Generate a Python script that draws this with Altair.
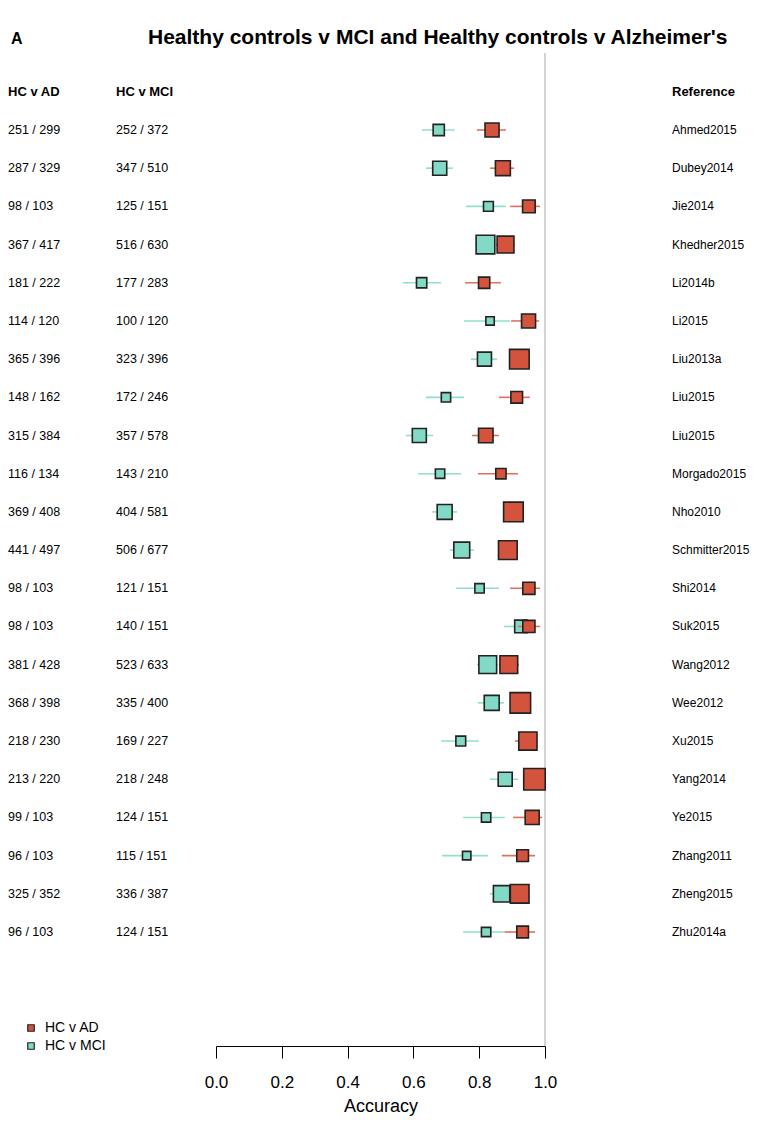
import altair as alt
import pandas as pd

# ---------------- data ----------------
references = ["Ahmed2015", "Dubey2014", "Jie2014", "Khedher2015", "Li2014b", "Li2015",
              "Liu2013a", "Liu2015", "Liu2015", "Morgado2015", "Nho2010", "Schmitter2015",
              "Shi2014", "Suk2015", "Wang2012", "Wee2012", "Xu2015", "Yang2014", "Ye2015",
              "Zhang2011", "Zheng2015", "Zhu2014a"]

ad_correct = [251, 287, 98, 367, 181, 114, 365, 148, 315, 116, 369, 441, 98, 98, 381, 368, 218, 213, 99, 96, 325, 96]
ad_total = [299, 329, 103, 417, 222, 120, 396, 162, 384, 134, 408, 497, 103, 103, 428, 398, 230, 220, 103, 103, 352, 103]
mci_correct = [252, 347, 125, 516, 177, 100, 323, 172, 357, 143, 404, 506, 121, 140, 523, 335, 169, 218, 124, 115, 336, 124]
mci_total = [372, 510, 151, 630, 283, 120, 396, 246, 578, 210, 581, 677, 151, 151, 633, 400, 227, 248, 151, 151, 387, 151]

ad_acc = [0.839, 0.872, 0.951, 0.880, 0.815, 0.950, 0.922, 0.914, 0.820, 0.866, 0.904,
          0.887, 0.951, 0.951, 0.890, 0.925, 0.948, 0.968, 0.961, 0.932, 0.923, 0.932]
ad_lo = [0.793, 0.833, 0.894, 0.851, 0.757, 0.897, 0.896, 0.860, 0.778, 0.796, 0.872,
         0.857, 0.894, 0.917, 0.860, 0.899, 0.909, 0.933, 0.903, 0.869, 0.895, 0.878]
ad_hi = [0.881, 0.906, 0.985, 0.909, 0.866, 0.982, 0.948, 0.954, 0.860, 0.918, 0.934,
         0.915, 0.985, 0.985, 0.921, 0.951, 0.978, 0.995, 0.991, 0.970, 0.951, 0.970]
ad_weight = [15, 16, 13.5, 18, 12, 15, 21, 12.5, 15.5, 11, 21, 20, 13, 13, 19, 22, 19.5, 23, 15, 12.5, 20, 12.5]

mci_acc = [0.677, 0.680, 0.828, 0.819, 0.625, 0.833, 0.816, 0.699, 0.618, 0.681, 0.695,
           0.747, 0.801, 0.927, 0.826, 0.838, 0.744, 0.879, 0.821, 0.762, 0.868, 0.821]
mci_lo = [0.626, 0.638, 0.760, 0.787, 0.568, 0.754, 0.775, 0.638, 0.578, 0.614, 0.657,
          0.711, 0.729, 0.875, 0.793, 0.796, 0.684, 0.833, 0.751, 0.687, 0.833, 0.751]
mci_hi = [0.726, 0.720, 0.881, 0.849, 0.684, 0.894, 0.854, 0.754, 0.660, 0.745, 0.733,
          0.784, 0.860, 0.964, 0.857, 0.875, 0.799, 0.918, 0.878, 0.827, 0.903, 0.878]
mci_weight = [12, 15, 10.5, 20, 11, 9, 15, 10, 15, 10, 16, 17, 10, 13.5, 19, 16, 10.5, 15, 10, 9, 17.5, 10]

groups = ["HC v AD", "HC v MCI"]
fill_colors = ["#d4533d", "#82d9c5"]
line_colors = {"HC v AD": "#e0705e", "HC v MCI": "#8fe0cd"}

# ---------------- tables ----------------
n = len(references)
rows = pd.DataFrame({
    "row": list(range(n)),
    "ref": references,
    "ad_lab": [f"{c} / {t}" for c, t in zip(ad_correct, ad_total)],
    "mci_lab": [f"{c} / {t}" for c, t in zip(mci_correct, mci_total)],
})
est = pd.concat([
    pd.DataFrame({"row": list(range(n)), "group": "HC v MCI", "acc": mci_acc,
                  "lo": mci_lo, "hi": mci_hi, "w": mci_weight}),
    pd.DataFrame({"row": list(range(n)), "group": "HC v AD", "acc": ad_acc,
                  "lo": ad_lo, "hi": ad_hi, "w": ad_weight}),
], ignore_index=True)

W, H = 329, 993
FONT = "Liberation Sans, Arial, sans-serif"

xscale = alt.Scale(domain=[0, 1], nice=False, zero=False)
yscale = alt.Scale(domain=[0, n - 1], range=[77, 879])
xaxis = alt.Axis(values=[0, 0.2, 0.4, 0.6, 0.8, 1.0], format=".1f", grid=False, labelFlush=False,
                 labelFontSize=17, labelColor="black", tickSize=12, tickColor="black",
                 domainColor="black", labelPadding=16, title="Accuracy", titleFontSize=18,
                 titleFontWeight="normal", titleColor="black", titlePadding=7,
                 labelFont=FONT, titleFont=FONT)


def X(field):
    return alt.X(field, type="quantitative", scale=xscale, axis=xaxis)


Y = alt.Y("row:Q", scale=yscale, axis=None)

vline = alt.Chart(pd.DataFrame({"x": [1.0]})).mark_rule(color="#c6c6c6", strokeWidth=1.5).encode(
    x=X("x"), y=alt.value(0), y2=alt.value(H))


def group_layers(g):
    d = alt.Chart(est).transform_filter(alt.datum.group == g)
    lines = d.mark_rule(strokeWidth=1.6, color=line_colors[g]).encode(x=X("lo"), x2="hi", y=Y)
    boxes = d.mark_square(stroke="#222222", strokeWidth=1.6, fillOpacity=1, opacity=1).encode(
        x=X("acc"), y=Y,
        fill=alt.Fill("group:N", scale=alt.Scale(domain=groups, range=fill_colors),
                      legend=alt.Legend(title=None, orient="none", legendX=-192, legendY=968,
                                        symbolType="square", symbolSize=42, symbolStrokeColor="#222222",
                                        symbolStrokeWidth=1.2, labelFontSize=14, labelFont=FONT,
                                        labelColor="black", rowPadding=4, padding=0, labelOffset=7)),
        size=alt.Size("w:Q", scale=alt.Scale(type="pow", exponent=2, domain=[0, 23], range=[0, 462]),
                      legend=None))
    return [lines, boxes]


def col_text(field, xpos, size=12.5):
    return alt.Chart(rows).mark_text(align="left", baseline="middle", fontSize=size, font=FONT,
                                     color="black").encode(x=alt.value(xpos), y=Y, text=f"{field}:N")


def static_text(txt, xpos, ypos, size, weight="normal", align="left"):
    return alt.Chart(pd.DataFrame({"t": [txt]})).mark_text(
        align=align, baseline="alphabetic", fontSize=size, fontWeight=weight, font=FONT,
        color="black").encode(x=alt.value(xpos), y=alt.value(ypos), text="t:N")


layers = [vline] + group_layers("HC v MCI") + group_layers("HC v AD") + [
    col_text("ad_lab", -208),
    col_text("mci_lab", -100),
    col_text("ref", 456, 12),
    static_text("A", -205, -9, 16, "bold"),
    static_text("Healthy controls v MCI and Healthy controls v Alzheimer's", -68, -9, 21, "bold"),
    static_text("HC v AD", -208, 43, 13, "bold"),
    static_text("HC v MCI", -100, 43, 13, "bold"),
    static_text("Reference", 456, 43, 13, "bold"),
]

chart = alt.layer(*layers).resolve_scale(x="shared", y="shared").properties(
    width=W, height=H,
    autosize=alt.AutoSizeParams(type="none"),
    padding={"left": 208, "top": 45, "right": 206, "bottom": 70},
).configure(font=FONT, view=alt.ViewConfig(strokeWidth=0, stroke="transparent"))

chart.save("out.html", embed_options={"renderer": "svg", "actions": False})
